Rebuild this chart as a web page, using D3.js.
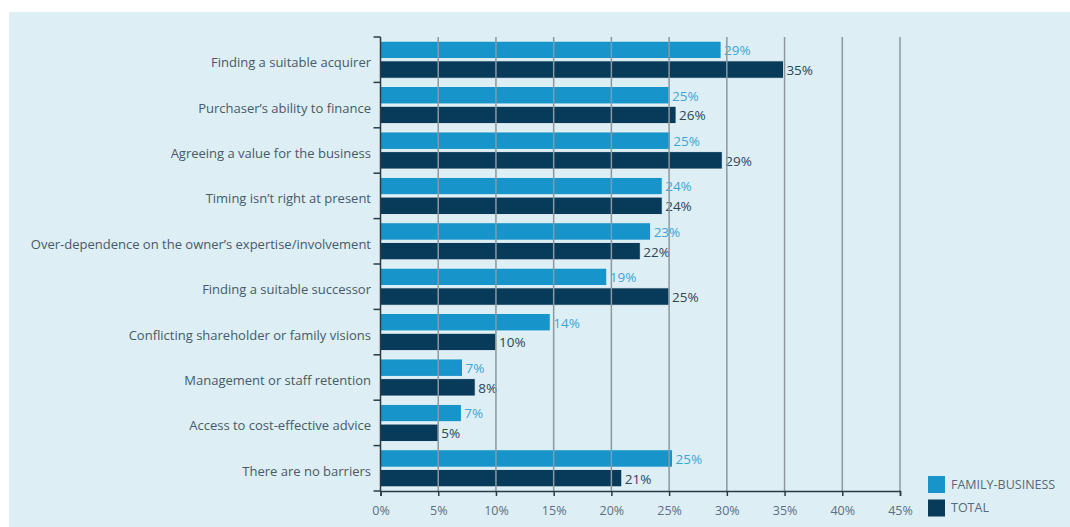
<!DOCTYPE html>
<html>
<head>
<meta charset="utf-8">
<script src="https://cdn.jsdelivr.net/npm/d3@7"></script>
<style>
  body { margin: 0; background: #fff; }
  svg { display: block; font-family: "Open Sans", sans-serif; }
</style>
</head>
<body>
<svg id="chart"></svg>
<script>
const categories = [
  "Finding a suitable acquirer",
  "Purchaser\u2019s ability to finance",
  "Agreeing a value for the business",
  "Timing isn\u2019t right at present",
  "Over-dependence on the owner\u2019s expertise/involvement",
  "Finding a suitable successor",
  "Conflicting shareholder or family visions",
  "Management or staff retention",
  "Access to cost-effective advice",
  "There are no barriers"
];
const series = ["FAMILY-BUSINESS", "TOTAL"];
const familyValues = [29.5, 25.0, 25.1, 24.4, 23.4, 19.6, 14.7, 7.1, 7.0, 25.3];
const totalValues = [34.9, 25.6, 29.6, 24.4, 22.5, 25.0, 10.0, 8.2, 5.0, 20.9];
const familyLabels = ["29%", "25%", "25%", "24%", "23%", "19%", "14%", "7%", "7%", "25%"];
const totalLabels = ["35%", "26%", "29%", "24%", "22%", "25%", "10%", "8%", "5%", "21%"];
const xTicks = [0, 5, 10, 15, 20, 25, 30, 35, 40, 45];

const W = 1070, H = 527;
const colors = { "FAMILY-BUSINESS": "#1794c9", "TOTAL": "#083b5a" };
const labelColors = { "FAMILY-BUSINESS": "#3ba7d8", "TOTAL": "#2d4658" };

var svg = d3.select("#chart").attr("width", W).attr("height", H);

// panel background
svg.append("rect")
  .attr("x", 9).attr("y", 12)
  .attr("width", W - 9).attr("height", H - 12)
  .attr("fill", "#ddeef4");

var x = d3.scaleLinear().domain([0, 45]).range([380.5, 900]);
var y = d3.scaleBand().domain(categories).range([37, 491]);
var yInner = d3.scaleBand().domain(series)
  .range([4.2, y.bandwidth() - 4.2]).paddingInner(0.12);

var rows = categories.map(function (c, i) {
  return {
    name: c,
    values: [
      { key: "FAMILY-BUSINESS", v: familyValues[i], label: familyLabels[i] },
      { key: "TOTAL", v: totalValues[i], label: totalLabels[i] }
    ]
  };
});

/* bars */
var groups = svg.append("g")
  .selectAll("g")
  .data(rows)
  .enter().append("g")
  .attr("transform", function (d) { return "translate(0," + y(d.name) + ")"; });

groups.selectAll("rect")
  .data(function (d) { return d.values; })
  .enter().append("rect")
  .attr("x", x(0))
  .attr("y", function (d) { return yInner(d.key); })
  .attr("width", function (d) { return x(d.v) - x(0); })
  .attr("height", yInner.bandwidth())
  .attr("fill", function (d) { return colors[d.key]; })
  .attr("stroke", "#eef8fb")
  .attr("stroke-width", 0.8);

/* gridlines drawn over the bars */
svg.append("g")
  .selectAll("line")
  .data(xTicks.slice(1))
  .enter().append("line")
  .attr("x1", function (d) { return x(d); })
  .attr("x2", function (d) { return x(d); })
  .attr("y1", 37)
  .attr("y2", 491)
  .attr("stroke", "#8c989e")
  .attr("stroke-width", 1.5);

/* value labels */
groups.selectAll("text")
  .data(function (d) { return d.values; })
  .enter().append("text")
  .attr("x", function (d) { return x(d.v) + 3; })
  .attr("y", function (d) { return yInner(d.key) + yInner.bandwidth() / 2; })
  .attr("dy", "0.4em")
  .attr("font-size", 13.5)
  .attr("fill", function (d) { return labelColors[d.key]; })
  .text(function (d) { return d.label; });

/* left axis with separator ticks */
var yAxis = svg.append("g");
yAxis.append("line")
  .attr("x1", x(0)).attr("x2", x(0))
  .attr("y1", 37).attr("y2", 491)
  .attr("stroke", "#2b3a44").attr("stroke-width", 1.5);
yAxis.selectAll("line.sep")
  .data([37].concat(categories.map(function (c) { return y(c) + y.bandwidth(); })))
  .enter().append("line")
  .attr("class", "sep")
  .attr("x1", x(0) - 7).attr("x2", x(0))
  .attr("y1", function (d) { return d; })
  .attr("y2", function (d) { return d; })
  .attr("stroke", "#2b3a44").attr("stroke-width", 1.5);

yAxis.selectAll("text")
  .data(categories)
  .enter().append("text")
  .attr("x", 371)
  .attr("y", function (d) { return y(d) + y.bandwidth() / 2 + 3; })
  .attr("dy", "0.35em")
  .attr("text-anchor", "end")
  .attr("font-size", 13)
  .attr("fill", "#475a69")
  .text(function (d) { return d; });

/* bottom axis */
var xAxis = svg.append("g")
  .attr("transform", "translate(0,491)")
  .call(d3.axisBottom(x)
    .tickValues(xTicks)
    .tickSize(5)
    .tickFormat(function (d) { return d + "%"; }));
xAxis.select(".domain").attr("stroke", "#2b3a44").attr("stroke-width", 1.5);
xAxis.selectAll(".tick line").attr("stroke", "#2b3a44").attr("stroke-width", 1.5);
xAxis.selectAll(".tick text")
  .attr("y", 15)
  .attr("font-family", "Open Sans, sans-serif")
  .attr("font-size", 12.5)
  .attr("fill", "#5a6f80");

/* legend */
var legend = svg.append("g")
  .selectAll("g")
  .data(series)
  .enter().append("g")
  .attr("transform", function (d, i) { return "translate(928," + (476 + i * 23.5) + ")"; });
legend.append("rect")
  .attr("width", 17).attr("height", 17)
  .attr("fill", function (d) { return colors[d]; });
legend.append("text")
  .attr("x", 23).attr("y", 8.5)
  .attr("dy", "0.35em")
  .attr("font-size", 12.5)
  .attr("fill", "#55697a")
  .text(function (d) { return d; });
</script>
</body>
</html>
